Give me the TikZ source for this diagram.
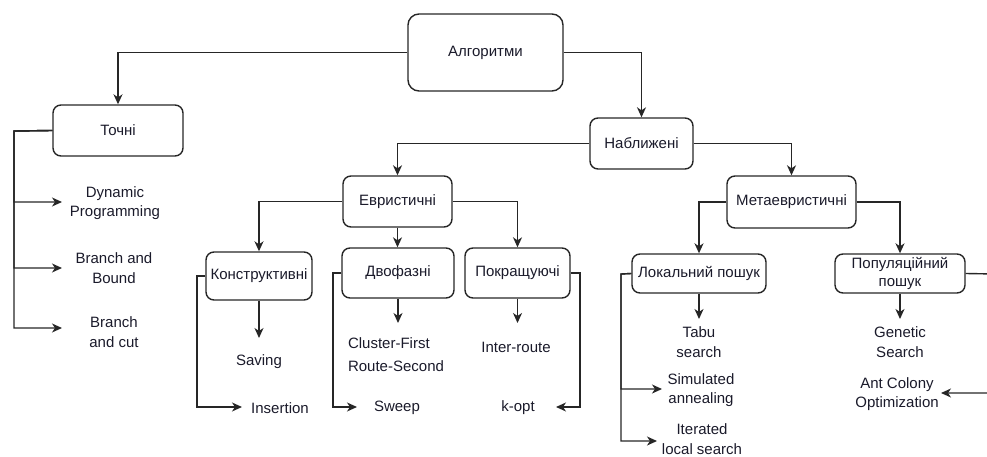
\documentclass[tikz,border=0pt]{standalone}
\usepackage{fontspec}
\setmainfont{Liberation Sans}
\usetikzlibrary{arrows.meta}
\definecolor{ln}{HTML}{262626}
\definecolor{tx}{HTML}{1A1A2A}
\begin{document}
\begin{tikzpicture}[x=1pt,y=-1pt,
  font=\fontsize{15}{19.5}\selectfont,
  box/.style={draw=ln,line width=1.4pt,rounded corners=8pt,inner sep=0pt,align=center,text=tx},
  leaf/.style={inner sep=0pt,align=center,text=tx},
  arr/.style={draw=ln,line width=1.4pt,-{Stealth[length=10pt,width=9pt,inset=3pt]}}]
\useasboundingbox (0,0) rectangle (987,457);
% boxes
\node[box,rounded corners=11pt,minimum width=155pt,minimum height=77pt] (alg) at (485.5,52.5) {Алгоритми};
\node[box,minimum width=130pt,minimum height=51pt] (tochni) at (118,130.5) {Точні};
\node[box,minimum width=103pt,minimum height=51pt] (nabl) at (641.5,143.5) {Наближені};
\node[box,minimum width=109pt,minimum height=51pt] (evr) at (397.5,201.5) {Евристичні};
\node[box,minimum width=129pt,minimum height=52pt] (meta) at (791.5,202) {Метаевристичні};
\node[box,minimum width=106pt,minimum height=48pt] (kon) at (259,276) {Конструктивні};
\node[box,minimum width=112pt,minimum height=50pt] (dvo) at (398,273) {Двофазні};
\node[box,minimum width=105pt,minimum height=50pt] (pokr) at (517.5,273) {Покращуючі};
\node[box,minimum width=134pt,minimum height=39pt] (lok) at (699,273.5) {Локальний пошук};
\node[box,minimum width=130pt,minimum height=39pt,font=\fontsize{15}{18}\selectfont] (pop) at (900,273.5) {Популяційний\\пошук};
% leaves
\node[leaf] (dp) at (115,203) {Dynamic\\Programming};
\node[leaf] (bb) at (114,268) {Branch and\\Bound};
\node[leaf] (bc) at (114,332) {Branch\\and cut};
\node[leaf] (sav) at (259,362) {Saving};
\node[leaf] (ins) at (280,408) {Insertion};
\node[leaf,align=left,font=\fontsize{15}{23}\selectfont] (cf) at (396,355) {Cluster-First\\Route-Second};
\node[leaf] (sw) at (397,408) {Sweep};
\node[leaf] (ir) at (516,347) {Inter-route};
\node[leaf] (ko) at (518,408) {k-opt};
\node[leaf] (tb) at (699,342) {Tabu\\search};
\node[leaf] (sa) at (701,390) {Simulated\\annealing};
\node[leaf] (ils) at (702,439) {Iterated\\local search};
\node[leaf] (gs) at (900,342) {Genetic\\Search};
\node[leaf] (aco) at (897,394) {Ant Colony\\Optimization};
% helper coordinates
\coordinate (tk) at (14,131);
\coordinate (dptip) at (62,202);
\coordinate (bbtip) at (62,268);
\coordinate (bctip) at (62,328);
\coordinate (savtip) at (259,338);
\coordinate (kl) at (197,276);
\coordinate (instip) at (242,407);
\coordinate (dl) at (333,273);
\coordinate (swtip) at (357,407);
\coordinate (cftip) at (398,323);
\coordinate (irtip) at (517.5,323);
\coordinate (pr) at (580,273);
\coordinate (kotip) at (556,407);
\coordinate (tbtip) at (699,319);
\coordinate (ll) at (621,274);
\coordinate (satip) at (662,389);
\coordinate (ilstip) at (657,441);
\coordinate (gstip) at (900,319);
\coordinate (ppr) at (995,274);
\coordinate (acotip) at (941,393);
% connectors
\draw[arr] (alg.west) -| (tochni.north);
\draw[arr] (alg.east) -| (nabl.north);
\draw[arr] (tochni.west) -- (tk) |- (dptip);
\draw[arr] (tochni.west) -- (tk) |- (bbtip);
\draw[arr] (tochni.west) -- (tk) |- (bctip);
\draw[arr] (nabl.west) -| (evr.north);
\draw[arr] (nabl.east) -| (meta.north);
\draw[arr] (evr.west) -| (kon.north);
\draw[arr] (evr.south) -- (evr.south |- dvo.north);
\draw[arr] (evr.east) -| (pokr.north);
\draw[arr] (kon.south) -- (savtip);
\draw[arr] (kon.west) -- (kl) |- (instip);
\draw[arr] (dvo.west) -- (dl) |- (swtip);
\draw[arr] (dvo.south) -- (cftip);
\draw[arr] (pokr.south) -- (irtip);
\draw[arr] (pokr.east) -- (pr) |- (kotip);
\draw[arr] (meta.west) -| (lok.north);
\draw[arr] (meta.east) -| (pop.north);
\draw[arr] (lok.south) -- (tbtip);
\draw[arr] (lok.west) -- (ll) |- (satip);
\draw[arr] (lok.west) -- (ll) |- (ilstip);
\draw[arr] (pop.south) -- (gstip);
\draw[arr] (pop.east) -- (ppr) |- (acotip);
\end{tikzpicture}
\end{document}
